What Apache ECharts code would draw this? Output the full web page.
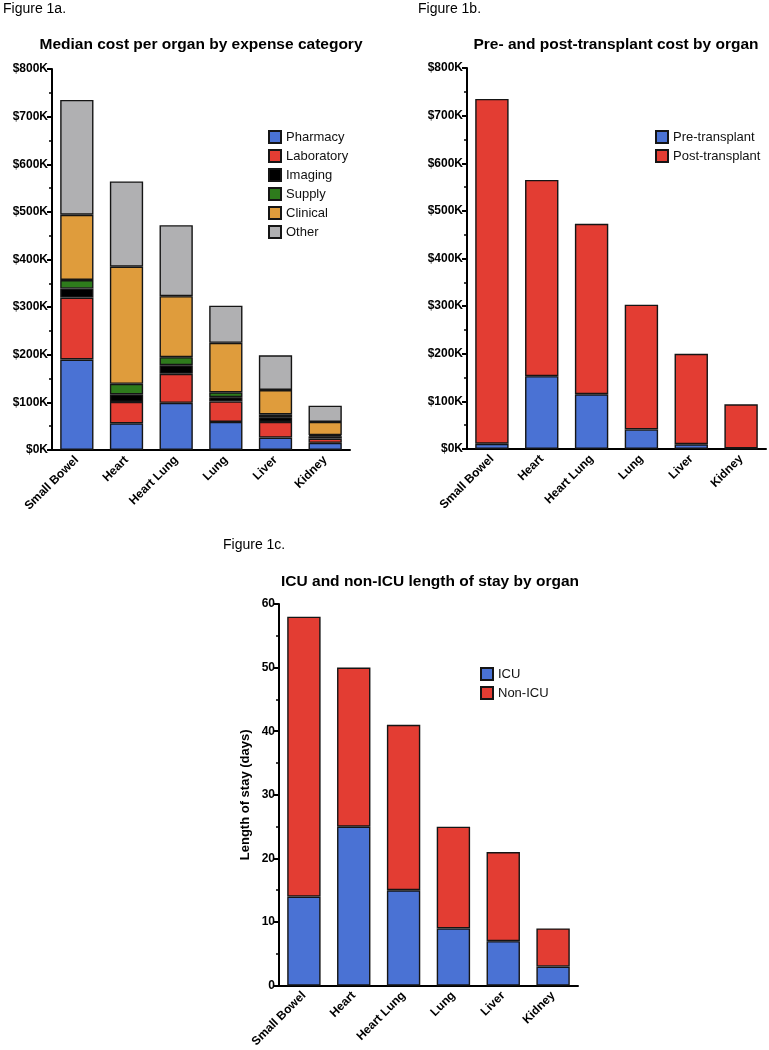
<!DOCTYPE html>
<html>
<head>
<meta charset="utf-8">
<script src="https://cdn.jsdelivr.net/npm/echarts@6/dist/echarts.min.js"></script>
<style>
  html, body { margin: 0; padding: 0; background: #fff; }
  #chart { width: 769px; height: 1050px; }
</style>
</head>
<body>
<div id="chart"></div>
<script>
// categories
const organs = ['Small Bowel', 'Heart', 'Heart Lung', 'Lung', 'Liver', 'Kidney']

// figure 1a: median cost by expense category ($K)
const pharmacy = [190, 56, 99, 59, 26, 15]
const laboratory = [130, 45, 61, 43, 33, 9]
const imaging = [19, 16, 18, 9, 10, 5]
const supply = [18, 22, 17, 10, 6, 2]
const clinical = [137, 246, 128, 104, 51, 28]
const other = [241, 179, 149, 78, 73, 34]

// figure 1b: pre / post transplant cost ($K)
const preTransplant = [11, 153, 115, 41, 10, 1]
const postTransplant = [724, 412, 358, 262, 190, 93]

// figure 1c: length of stay (days)
const icu = [14, 25, 15, 9, 7, 3]
const nonIcu = [44, 25, 26, 16, 14, 6]

const costMax = 800
const costStep = 100
const losMax = 60
const losStep = 10

const BLUE = '#4A72D4'
const RED = '#E33D33'
const FONT = 'Liberation Sans, Arial, sans-serif'

const chart = echarts.init(document.getElementById('chart'))

// shared axis styling
function xAxisFor(gridIndex) {
  return {
    type: 'category',
    gridIndex: gridIndex,
    data: organs,
    axisLine: { lineStyle: { color: '#000', width: 2 } },
    axisTick: { alignWithLabel: true, length: 5, lineStyle: { color: '#000', width: 2 } },
    axisLabel: {
      rotate: 45, interval: 0, margin: 8,
      color: '#000', fontWeight: 'bold', fontSize: 12, fontFamily: FONT
    }
  }
}
function yAxisFor(gridIndex, max, step, fmt) {
  return {
    type: 'value',
    gridIndex: gridIndex,
    min: 0, max: max, interval: step,
    splitLine: { show: false },
    axisLine: { show: true, lineStyle: { color: '#000', width: 2 } },
    axisTick: { show: true, length: 5, lineStyle: { color: '#000', width: 2 } },
    minorTick: { show: true, splitNumber: 2, length: 3, lineStyle: { color: '#000', width: 1.5 } },
    axisLabel: {
      formatter: fmt, margin: 4,
      color: '#000', fontWeight: 'bold', fontSize: 12, fontFamily: FONT
    }
  }
}
function barSeries(name, data, color, axisIndex, stack) {
  return {
    name: name, type: 'bar', stack: stack, data: data,
    xAxisIndex: axisIndex, yAxisIndex: axisIndex,
    barCategoryGap: '33%',
    itemStyle: { color: color, borderColor: '#151515', borderWidth: 1.4 }
  }
}
function legendAt(left, top, names) {
  return {
    data: names, orient: 'vertical', left: left, top: top, padding: 0,
    icon: 'rect', itemWidth: 12, itemHeight: 12, itemGap: 5,
    selectedMode: false,
    textStyle: { color: '#111', fontSize: 13, fontFamily: FONT }
  }
}
function label(text, x, y, bold, size, align) {
  return {
    type: 'text', x: x, y: y,
    style: {
      text: text, fill: '#000', fontFamily: FONT,
      fontSize: size, fontWeight: bold ? 'bold' : 'normal',
      textAlign: align, textVerticalAlign: 'middle'
    }
  }
}

const costFmt = (v) => '$' + v + 'K'

const option = {
  animation: false,
  textStyle: { fontFamily: FONT },
  graphic: [
    label('Figure 1a.', 3, 9, false, 14, 'left'),
    label('Figure 1b.', 418, 9, false, 14, 'left'),
    label('Figure 1c.', 223, 545, false, 14, 'left'),
    label('Median cost per organ by expense category', 201, 45, true, 15.5, 'center'),
    label('Pre- and post-transplant cost by organ', 616, 45, true, 15.5, 'center'),
    label('ICU and non-ICU length of stay by organ', 430, 582, true, 15.5, 'center')
  ],
  grid: [
    { left: 52, top: 69, width: 298, height: 381 },
    { left: 467, top: 68, width: 299, height: 381 },
    { left: 279, top: 604, width: 299, height: 382 }
  ],
  legend: [
    legendAt(268, 130, ['Pharmacy', 'Laboratory', 'Imaging', 'Supply', 'Clinical', 'Other']),
    legendAt(655, 130, ['Pre-transplant', 'Post-transplant']),
    legendAt(480, 667, ['ICU', 'Non-ICU'])
  ],
  xAxis: [xAxisFor(0), xAxisFor(1), xAxisFor(2)],
  yAxis: [
    yAxisFor(0, costMax, costStep, costFmt),
    yAxisFor(1, costMax, costStep, costFmt),
    Object.assign(yAxisFor(2, losMax, losStep, '{value}'), {
      name: 'Length of stay (days)',
      nameLocation: 'middle',
      nameGap: 27,
      nameTextStyle: { color: '#000', fontWeight: 'bold', fontSize: 13, fontFamily: FONT }
    })
  ],
  series: [
    barSeries('Pharmacy', pharmacy, BLUE, 0, 'a'),
    barSeries('Laboratory', laboratory, RED, 0, 'a'),
    barSeries('Imaging', imaging, '#000000', 0, 'a'),
    barSeries('Supply', supply, '#2E7B1C', 0, 'a'),
    barSeries('Clinical', clinical, '#DF9C3C', 0, 'a'),
    barSeries('Other', other, '#B0B0B2', 0, 'a'),
    barSeries('Pre-transplant', preTransplant, BLUE, 1, 'b'),
    barSeries('Post-transplant', postTransplant, RED, 1, 'b'),
    barSeries('ICU', icu, BLUE, 2, 'c'),
    barSeries('Non-ICU', nonIcu, RED, 2, 'c')
  ]
}

chart.setOption(option)
</script>
</body>
</html>
